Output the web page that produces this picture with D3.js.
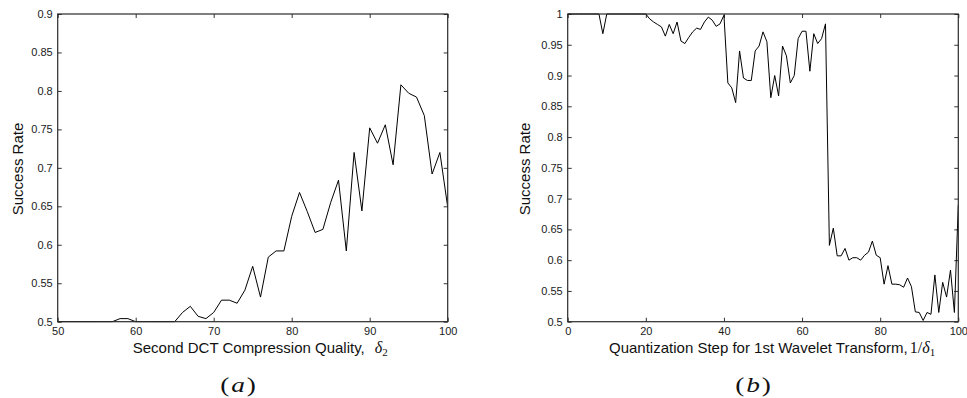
<!DOCTYPE html>
<html>
<head>
<meta charset="utf-8">
<script src="https://cdn.jsdelivr.net/npm/d3@7"></script>
<style>
  body { margin: 0; background: #fff; }
  svg { display: block; }
  .tick text { font-family: "Liberation Sans", Arial, sans-serif; font-size: 11px; fill: #1a1a1a; }
  .tick line { stroke: #333; }
</style>
</head>
<body>
<div id="chart"></div>
<script>
// (a) success rate vs second DCT quality, x = 50..100
const qualityStart = 50;
const qualityRate = [
  0.5, 0.5, 0.5, 0.5, 0.5, 0.5, 0.5, 0.5, 0.504, 0.504,
  0.5, 0.5, 0.5, 0.5, 0.5, 0.5, 0.512, 0.52, 0.507, 0.504,
  0.512, 0.528, 0.528, 0.524, 0.541, 0.572, 0.532, 0.584, 0.592, 0.592,
  0.637, 0.668, 0.643, 0.616, 0.62, 0.655, 0.684, 0.592, 0.72, 0.644,
  0.752, 0.732, 0.756, 0.704, 0.808, 0.797, 0.792, 0.768, 0.692, 0.72,
  0.649
];
const qualityXTicks = [50, 60, 70, 80, 90, 100];
const qualityYTicks = [0.5, 0.55, 0.6, 0.65, 0.7, 0.75, 0.8, 0.85, 0.9];

// (b) success rate vs quantization step, x = 0..100
const stepStart = 0;
const stepRate = [
  1, 1, 1, 1, 1, 1, 1, 1, 1, 0.968,
  1, 1, 1, 1, 1, 1, 1, 1, 1, 1,
  1, 0.992, 0.987, 0.983, 0.979, 0.964, 0.983, 0.968, 0.987, 0.956,
  0.952, 0.962, 0.971, 0.977, 0.975, 0.987, 0.995, 0.99, 0.98, 0.984,
  0.998, 0.888, 0.88, 0.856, 0.94, 0.896, 0.892, 0.892, 0.94, 0.948,
  0.971, 0.955, 0.864, 0.9, 0.867, 0.948, 0.932, 0.888, 0.9, 0.96,
  0.972, 0.972, 0.907, 0.968, 0.952, 0.96, 0.984, 0.624, 0.652, 0.607,
  0.607, 0.619, 0.6, 0.604, 0.604, 0.6, 0.608, 0.613, 0.631, 0.608,
  0.604, 0.561, 0.591, 0.561, 0.561, 0.56, 0.556, 0.571, 0.557, 0.516,
  0.515, 0.502, 0.515, 0.512, 0.576, 0.515, 0.564, 0.54, 0.584, 0.515,
  0.69
];
const stepXTicks = [0, 20, 40, 60, 80, 100];
const stepYTicks = [0.5, 0.55, 0.6, 0.65, 0.7, 0.75, 0.8, 0.85, 0.9, 0.95, 1];

const W = 967, H = 398;
const sans = '"Liberation Sans", Arial, sans-serif';
const serif = '"Liberation Serif", "DejaVu Serif", serif';

const svg = d3.select('#chart').append('svg')
  .attr('width', W)
  .attr('height', H);

function drawPanel(opts) {
  const { left, right, top, bottom, xDomain, yDomain, xTicks, yTicks, start, values, id } = opts;
  const x = d3.scaleLinear().domain(xDomain).range([left, right]);
  const y = d3.scaleLinear().domain(yDomain).range([bottom, top]);
  const fmt = d => String(+d.toFixed(2));

  const g = svg.append('g');

  g.append('clipPath').attr('id', id)
    .append('rect')
    .attr('x', left).attr('y', top - 1)
    .attr('width', right - left).attr('height', bottom - top + 2);

  // ticks inside the box on all four sides
  g.append('g')
    .attr('transform', `translate(0,${bottom})`)
    .call(d3.axisBottom(x).tickValues(xTicks).tickSize(-4).tickPadding(6).tickFormat(d3.format('d')))
    .call(a => a.select('.domain').remove());
  g.append('g')
    .attr('transform', `translate(0,${top})`)
    .call(d3.axisTop(x).tickValues(xTicks).tickSize(-4).tickFormat(''))
    .call(a => a.select('.domain').remove());
  g.append('g')
    .attr('transform', `translate(${left},0)`)
    .call(d3.axisLeft(y).tickValues(yTicks).tickSize(-4).tickPadding(5).tickFormat(fmt))
    .call(a => a.select('.domain').remove());
  g.append('g')
    .attr('transform', `translate(${right},0)`)
    .call(d3.axisRight(y).tickValues(yTicks).tickSize(-4).tickFormat(''))
    .call(a => a.select('.domain').remove());

  const line = d3.line()
    .x((d, i) => x(start + i))
    .y(d => y(d));

  g.append('path')
    .datum(values)
    .attr('clip-path', `url(#${id})`)
    .attr('fill', 'none')
    .attr('stroke', '#000')
    .attr('stroke-width', 1)
    .attr('d', line);

  g.append('rect')
    .attr('x', left).attr('y', top)
    .attr('width', right - left).attr('height', bottom - top)
    .attr('fill', 'none')
    .attr('stroke', '#2a2a2a')
    .attr('stroke-width', 1.2);

  return g;
}

const pa = drawPanel({
  id: 'clipA', left: 57.7, right: 447.7, top: 14, bottom: 321.7,
  xDomain: [50, 100], yDomain: [0.5, 0.9],
  xTicks: qualityXTicks, yTicks: qualityYTicks,
  start: qualityStart, values: qualityRate
});

const pb = drawPanel({
  id: 'clipB', left: 567.7, right: 958.3, top: 14, bottom: 321.7,
  xDomain: [0, 100], yDomain: [0.5, 1],
  xTicks: stepXTicks, yTicks: stepYTicks,
  start: stepStart, values: stepRate
});

// y axis titles
[[17.5, pa], [525, pb]].forEach(([cx, g]) => {
  g.append('text')
    .attr('transform', `translate(${cx},169) rotate(-90)`)
    .attr('dy', '0.35em')
    .attr('text-anchor', 'middle')
    .style('font-family', sans)
    .style('font-size', '15px')
    .attr('fill', '#111')
    .text('Success Rate');
});

// x axis titles
const ta = pa.append('text')
  .attr('x', 132.7).attr('y', 352.7)
  .style('font-family', sans).style('font-size', '15px').attr('fill', '#111');
ta.append('tspan').text('Second DCT Compression Quality,');
ta.append('tspan').attr('dx', 10).style('font-family', serif).style('font-style', 'italic').style('font-size', '16px').text('δ');
ta.append('tspan').attr('dy', 3).style('font-family', serif).style('font-size', '11px').text('2');

const tb = pb.append('text')
  .attr('x', 609).attr('y', 352.7)
  .style('font-family', sans).style('font-size', '15px').attr('fill', '#111');
tb.append('tspan').text('Quantization Step for 1st Wavelet Transform,');
tb.append('tspan').attr('dx', 2).style('font-family', serif).style('font-size', '16px').text('1/');
tb.append('tspan').style('font-family', serif).style('font-style', 'italic').style('font-size', '16px').text('δ');
tb.append('tspan').attr('dy', 3).style('font-family', serif).style('font-size', '11px').text('1');

// captions
[[238, 'a'], [753, 'b']].forEach(([cx, letter]) => {
  const t = svg.append('text')
    .attr('transform', `translate(${cx},392) scale(1.3,1)`)
    .attr('text-anchor', 'middle')
    .style('font-family', serif).style('font-size', '21px').attr('fill', '#111');
  t.append('tspan').text('(');
  t.append('tspan').attr('dx', 1.5).style('font-style', 'italic').text(letter);
  t.append('tspan').attr('dx', 1.5).text(')');
});
</script>
</body>
</html>
